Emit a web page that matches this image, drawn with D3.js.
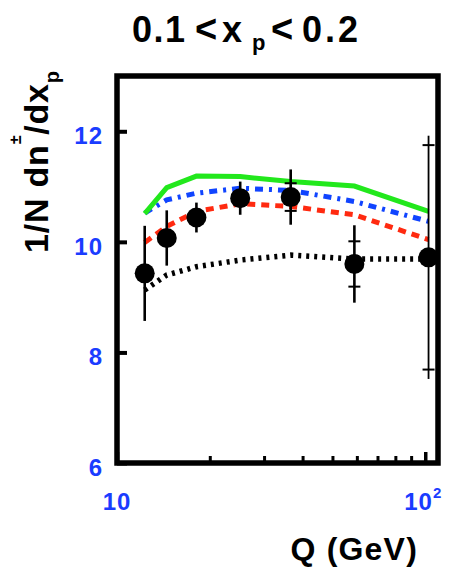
<!DOCTYPE html>
<html>
<head>
<meta charset="utf-8">
<script src="https://cdn.jsdelivr.net/npm/d3@7"></script>
<style>
  body { margin: 0; background: #fff; }
  svg text { font-family: "Liberation Sans", Arial, Helvetica, sans-serif; font-weight: bold; }
</style>
</head>
<body>
<div id="chart"></div>
<script>
// values
var qVals    = [12.3, 14.5, 18.1, 25.1, 36.6, 58.9, 102.5];
var dataVals = [9.43, 10.07, 10.44, 10.79, 10.81, 9.60, 9.72];
var errTot   = [0.86, 0.50, 0.27, 0.30, 0.50, 0.70, 2.20];
var errInner = [null, null, null, null, 0.25, 0.41, 2.03];

var greenVals = [10.51, 10.98, 11.19, 11.18, 11.09, 11.01, 10.55];
var blueVals  = [10.52, 10.76, 10.88, 10.97, 10.93, 10.73, 10.37];
var redVals   = [9.99, 10.28, 10.55, 10.69, 10.64, 10.49, 10.04];
var blackVals = [9.13, 9.40, 9.55, 9.67, 9.76, 9.69, 9.69];

var yTicks = [6, 8, 10, 12];
var xMinor = [20, 30, 40, 50, 60, 70, 80, 90];
var xMajor = [10, 100];

var width = 449, height = 570;
var margin = {top: 76, right: 11, bottom: 107, left: 117};

var svg = d3.select('#chart').append('svg')
    .attr('width', width)
    .attr('height', height);

var x = d3.scaleLog().domain([10, 110]).range([margin.left, width - margin.right]);
var y = d3.scaleLinear().domain([6, 13]).range([height - margin.bottom, margin.top]);

var blue = '#1a3cff';

// y axis ticks (inside) + labels
var yAx = svg.append('g')
    .attr('transform', 'translate(' + margin.left + ',0)')
    .call(d3.axisLeft(y).tickValues(yTicks).tickFormat(d3.format('d'))
      .tickSizeInner(-10).tickSizeOuter(0).tickPadding(14));
yAx.select('.domain').remove();
yAx.selectAll('line').attr('stroke', '#000').attr('stroke-width', 4);
yAx.selectAll('text').attr('fill', blue).attr('font-size', 24)
    .attr('letter-spacing', 1).attr('dy', '0.52em');

// x minor ticks
var xMin = svg.append('g')
    .attr('transform', 'translate(0,' + (height - margin.bottom) + ')')
    .call(d3.axisBottom(x).tickValues(xMinor).tickSizeInner(-7).tickSizeOuter(0).tickFormat(''));
xMin.select('.domain').remove();
xMin.selectAll('line').attr('stroke', '#000').attr('stroke-width', 3);

// x major ticks
var xMaj = svg.append('g')
    .attr('transform', 'translate(0,' + (height - margin.bottom) + ')')
    .call(d3.axisBottom(x).tickValues(xMajor).tickSizeInner(-11).tickSizeOuter(0).tickFormat(''));
xMaj.select('.domain').remove();
xMaj.selectAll('line').attr('stroke', '#000').attr('stroke-width', 3.5);

// x labels
svg.append('text')
    .attr('x', x(10)).attr('y', 510)
    .attr('text-anchor', 'middle')
    .attr('font-size', 24).attr('letter-spacing', 1).attr('fill', blue)
    .text('10');
var lab100 = svg.append('text')
    .attr('x', x(100) - 2).attr('y', 510)
    .attr('text-anchor', 'middle')
    .attr('font-size', 24).attr('letter-spacing', 1).attr('fill', blue);
lab100.append('tspan').text('10');
lab100.append('tspan').attr('font-size', 15).attr('dy', -12).text('2');

// frame
svg.append('rect')
    .attr('x', margin.left).attr('y', margin.top)
    .attr('width', width - margin.left - margin.right)
    .attr('height', height - margin.top - margin.bottom)
    .attr('fill', 'none').attr('stroke', '#000').attr('stroke-width', 5.5);

// model curves
function curve(vals, color, dash, w) {
  var line = d3.line()
      .x(function(d, i) { return x(qVals[i]); })
      .y(function(d) { return y(d); });
  svg.append('path')
      .datum(vals)
      .attr('d', line)
      .attr('fill', 'none')
      .attr('stroke', color)
      .attr('stroke-width', w)
      .attr('stroke-dasharray', dash);
}
curve(blackVals, '#000', '3,5', 5.5);
curve(redVals, '#ff2a10', '8,6', 5);
curve(blueVals, '#1044ff', '8,6,3,6', 5);
curve(greenVals, '#22e81c', null, 5);

// data points
var pts = svg.append('g');
qVals.forEach(function(q, i) {
  var cx = x(q), cy = y(dataVals[i]);
  pts.append('line')
      .attr('x1', cx).attr('x2', cx)
      .attr('y1', y(dataVals[i] + errTot[i])).attr('y2', y(dataVals[i] - errTot[i]))
      .attr('stroke', '#000').attr('stroke-width', i === 6 ? 1.8 : 2.6);
  if (errInner[i] != null) {
    [1, -1].forEach(function(s) {
      pts.append('line')
          .attr('x1', cx - 6).attr('x2', cx + 6)
          .attr('y1', y(dataVals[i] + s * errInner[i])).attr('y2', y(dataVals[i] + s * errInner[i]))
          .attr('stroke', '#000').attr('stroke-width', 2);
    });
  }
  pts.append('circle')
      .attr('cx', cx).attr('cy', cy).attr('r', 10)
      .attr('fill', '#000');
});

// title
var title = svg.append('text').attr('y', 42).attr('font-size', 36).attr('fill', '#000');
title.append('tspan').attr('x', 132).attr('letter-spacing', 1.5).text('0.1');
title.append('tspan').attr('x', 195).attr('font-size', 38).text('<');
title.append('tspan').attr('x', 222).text('x');
title.append('tspan').attr('x', 252).attr('y', 50).attr('font-size', 22).text('p');
title.append('tspan').attr('x', 271).attr('y', 42).attr('font-size', 38).text('<');
title.append('tspan').attr('x', 302).attr('font-size', 36).attr('letter-spacing', 3).text('0.2');

// y axis title
var yt = svg.append('text')
    .attr('transform', 'translate(48,253) rotate(-90)')
    .attr('font-size', 34).attr('letter-spacing', 0.8).attr('fill', '#000');
yt.append('tspan').text('1/N dn');
yt.append('tspan').attr('font-size', 16).attr('dy', -27).text('±');
yt.append('tspan').attr('dy', 27).text('/dx');
yt.append('tspan').attr('font-size', 20).attr('dy', 11).text('p');

// x axis title
svg.append('text')
    .attr('x', 418).attr('y', 560)
    .attr('text-anchor', 'end')
    .attr('font-size', 32).attr('letter-spacing', 1.2).attr('fill', '#000')
    .text('Q (GeV)');
</script>
</body>
</html>
